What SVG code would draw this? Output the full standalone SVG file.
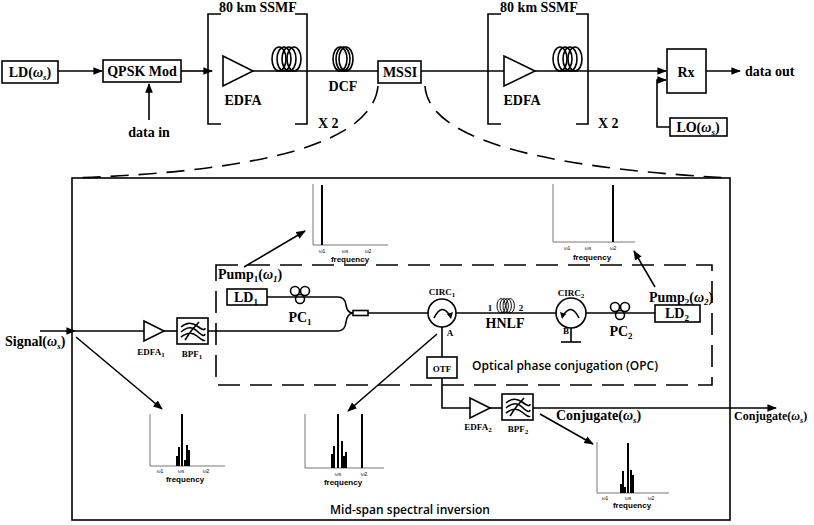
<svg xmlns="http://www.w3.org/2000/svg" width="814" height="525" viewBox="0 0 814 525">
<style>
.s{stroke:#000;stroke-width:1.6;fill:none}
.b{stroke:#000;stroke-width:1.6;fill:#fff}
.t{font-family:"Liberation Serif",serif;font-weight:bold;font-size:14px;fill:#000}
.ts{font-family:"Liberation Serif",serif;font-weight:bold;font-size:9px;fill:#000}
.sf{font-family:"Open Sans",sans-serif;font-weight:600;font-size:12px;fill:#000}
.ax{stroke:#777;stroke-width:1;fill:none}
.pk{stroke:#000;stroke-width:2;fill:none}
.fl{font-family:"Liberation Sans",sans-serif;font-size:5px;fill:#000}
.fr{font-family:"Liberation Sans",sans-serif;font-weight:bold;font-size:8px;fill:#000}
.dash{stroke:#000;stroke-width:1.6;fill:none;stroke-dasharray:22 10}
</style>
<defs>
<marker id="ar" viewBox="0 0 10 10" refX="9" refY="5" markerWidth="6" markerHeight="6" orient="auto"><path d="M0,1 L10,5 L0,9 z" fill="#000"/></marker>
<g id="coil"><ellipse cx="7" cy="-12" rx="7" ry="12" class="s"/><ellipse cx="12" cy="-12" rx="7" ry="12" class="s"/><ellipse cx="17" cy="-12" rx="7" ry="12" class="s"/><ellipse cx="22" cy="-12" rx="7" ry="12" class="s"/></g>
<g id="coil3"><ellipse cx="7" cy="-12" rx="7" ry="12" class="s"/><ellipse cx="10" cy="-12" rx="7" ry="12" class="s"/><ellipse cx="13" cy="-12" rx="7" ry="12" class="s"/></g>
<g id="pc"><circle cx="-5" cy="0" r="4.5" class="s"/><circle cx="5" cy="0" r="4.5" class="s"/><circle cx="0" cy="8" r="4.5" class="s"/></g>
<g id="bpf"><rect x="0" y="0" width="31" height="26" class="b"/><path d="M4,9 Q12,2 20,8 T28,10 M4,14 Q13,6 20,13 T28,16 M4,19 Q13,12 20,18 T28,22 M8,22 Q14,12 22,4" class="s" stroke-width="1"/></g>
</defs>

<g id="connectors">
<line x1="58" y1="71" x2="102" y2="71" class="s" marker-end="url(#ar)"/>
<line x1="149" y1="120" x2="149" y2="84" class="s" marker-end="url(#ar)"/>
<line x1="181" y1="71" x2="212" y2="71" class="s" marker-end="url(#ar)"/>
<line x1="253" y1="71" x2="378" y2="71" class="s"/>
<line x1="421" y1="71" x2="504" y2="71" class="s"/>
<line x1="535" y1="71" x2="666" y2="71" class="s" marker-end="url(#ar)"/>
<line x1="706" y1="71" x2="740" y2="71" class="s" marker-end="url(#ar)"/>
<polyline points="670,127 657,127 657,80 666,80" class="s" marker-end="url(#ar)"/>
<path d="M378,86 Q370,168 72,178" class="s" stroke-dasharray="18 10"/>
<path d="M425,86 Q430,162 730,178" class="s" stroke-dasharray="18 10"/>
<line x1="40" y1="331" x2="75" y2="331" class="s" marker-end="url(#ar)"/>
<line x1="75" y1="331" x2="144" y2="331" class="s"/>
<line x1="164" y1="331" x2="177" y2="331" class="s"/>
<path d="M208,331 L338,331 Q345,331 346,322 Q347,314 353,313" class="s"/>
<path d="M267,297 L338,297 Q345,297 346,305 Q347,313 353,313" class="s"/>
<rect x="353" y="310.5" width="15" height="5" class="b" stroke-width="1.2"/>
<line x1="368" y1="313" x2="428" y2="313" class="s"/>
<line x1="456" y1="313" x2="556" y2="313" class="s"/>
<line x1="586" y1="313" x2="655" y2="313" class="s"/>
<line x1="571" y1="328" x2="571" y2="342" class="s"/>
<line x1="561" y1="342" x2="581" y2="342" class="s"/>
<line x1="442" y1="327" x2="442" y2="357" class="s"/>
<polyline points="442,378 442,408 470,408" class="s"/>
<line x1="490" y1="408" x2="502" y2="408" class="s"/>
<line x1="533" y1="408" x2="776" y2="408" class="s" marker-end="url(#ar)"/>
<line x1="76" y1="337" x2="162" y2="409" class="s" stroke-width="1.2" marker-end="url(#ar)"/>
<line x1="437" y1="334" x2="348" y2="411" class="s" stroke-width="1.2" marker-end="url(#ar)"/>
<line x1="540" y1="414" x2="593" y2="444" class="s" stroke-width="1.2" marker-end="url(#ar)"/>
<line x1="244" y1="267" x2="305" y2="231" class="s" stroke-width="1.2" marker-end="url(#ar)"/>
<line x1="655" y1="287" x2="634" y2="251" class="s" stroke-width="1.2" marker-end="url(#ar)"/>
</g>

<g id="ld"><rect x="2" y="61" width="56" height="22" class="b"/><text x="30" y="77" class="t" text-anchor="middle">LD(<tspan font-style="italic">ω<tspan font-size="9" dy="3">s</tspan></tspan><tspan dy="-3">)</tspan></text></g>
<g id="qpsk"><rect x="103" y="60" width="78" height="22" class="b"/><text x="142" y="76" class="t" text-anchor="middle">QPSK Mod</text></g>
<text x="149" y="137" class="t" text-anchor="middle">data in</text>

<g id="span1">
<path d="M221,14 L208,14 L208,124 L221,124 M295,14 L307,14 L307,124 L295,124" class="s"/>
<text x="258" y="12" class="t" text-anchor="middle">80 km SSMF</text>
<polygon points="223,56 253,71 223,86" class="b"/>
<text x="243" y="105" class="t" text-anchor="middle">EDFA</text>
<use href="#coil" x="272" y="71"/>
<text x="318" y="128" class="t">X 2</text>
</g>
<g id="dcf"><use href="#coil3" x="333" y="71"/><text x="343" y="91" class="t" text-anchor="middle">DCF</text></g>
<g id="mssi"><rect x="378" y="61" width="43" height="22" class="b"/><text x="400" y="77" class="t" text-anchor="middle">MSSI</text></g>
<g id="span2">
<path d="M501,14 L488,14 L488,124 L501,124 M576,14 L588,14 L588,124 L576,124" class="s"/>
<text x="539" y="12" class="t" text-anchor="middle">80 km SSMF</text>
<polygon points="504,56 535,71 504,86" class="b"/>
<text x="522" y="105" class="t" text-anchor="middle">EDFA</text>
<use href="#coil" x="553" y="71"/>
<text x="598" y="128" class="t">X 2</text>
</g>
<g id="rx"><rect x="667" y="49" width="39" height="44" class="b"/><text x="686" y="77" class="t" text-anchor="middle">Rx</text></g>
<text x="745" y="76" class="t">data out</text>
<g id="lo"><rect x="670" y="118" width="57" height="18" class="b"/><text x="698" y="132" class="t" text-anchor="middle">LO(<tspan font-style="italic">ω<tspan font-size="9" dy="3">s</tspan></tspan><tspan dy="-3">)</tspan></text></g>

<rect id="mssi-detail" x="72" y="178" width="658" height="342" class="s"/>
<rect id="opc" x="216" y="265" width="496" height="120" class="dash"/>
<text x="472" y="370" class="sf">Optical phase conjugation (OPC)</text>
<text x="410" y="514" class="sf" text-anchor="middle">Mid-span spectral inversion</text>

<text x="5" y="346" class="t">Signal(<tspan font-style="italic">ω<tspan font-size="9" dy="3">s</tspan></tspan><tspan dy="-3">)</tspan></text>
<g id="edfa1"><polygon points="144,321 164,331 144,341" class="b"/><text x="151" y="355" class="ts" text-anchor="middle">EDFA<tspan font-size="7" dy="2">1</tspan></text></g>
<g id="bpf1"><use href="#bpf" x="177" y="318"/><text x="192" y="357" class="ts" text-anchor="middle">BPF<tspan font-size="7" dy="2">1</tspan></text></g>

<text x="218" y="279" class="t">Pump<tspan font-size="9" dy="3">1</tspan><tspan dy="-3">(</tspan><tspan font-style="italic">ω<tspan font-size="9" dy="3">1</tspan></tspan><tspan dy="-3">)</tspan></text>
<g id="ld1"><rect x="227" y="289" width="40" height="16" class="b"/><text x="246" y="302" class="t" text-anchor="middle">LD<tspan font-size="9" dy="3">1</tspan></text></g>
<g id="pc1"><use href="#pc" x="300" y="291"/><text x="300" y="322" class="t" text-anchor="middle">PC<tspan font-size="9" dy="3">1</tspan></text></g>
<g id="circ1"><circle cx="442" cy="313" r="14" class="b"/><path d="M434,318 Q442,302 450,316" class="s" stroke-width="2"/><path d="M447,314 L451,319 L453,312 z" fill="#000"/><text x="442" y="295" class="ts" text-anchor="middle">CIRC<tspan font-size="7" dy="2">1</tspan></text><text x="450" y="336" class="ts" text-anchor="middle">A</text></g>
<g id="hnlf"><use href="#coil" x="497" y="313" transform="translate(497 313) scale(0.6 0.6) translate(-497 -313)"/><text x="490" y="311" class="ts" text-anchor="middle">1</text><text x="521" y="311" class="ts" text-anchor="middle">2</text><text x="505" y="328" class="t" text-anchor="middle">HNLF</text></g>
<g id="circ2"><circle cx="571" cy="313" r="15" class="b"/><path d="M579,318 Q571,302 563,316" class="s" stroke-width="2"/><path d="M566,314 L562,319 L560,312 z" fill="#000"/><text x="571" y="296" class="ts" text-anchor="middle">CIRC<tspan font-size="7" dy="2">2</tspan></text><text x="566" y="334" class="ts" text-anchor="middle">B</text></g>
<g id="pc2"><use href="#pc" x="620" y="307"/><text x="621" y="336" class="t" text-anchor="middle">PC<tspan font-size="9" dy="3">2</tspan></text></g>
<g id="ld2"><rect x="655" y="305" width="45" height="17" class="b"/><text x="677" y="318" class="t" text-anchor="middle">LD<tspan font-size="9" dy="3">2</tspan></text></g>
<text x="649" y="302" class="t">Pump<tspan font-size="9" dy="3">2</tspan><tspan dy="-3">(</tspan><tspan font-style="italic">ω<tspan font-size="9" dy="3">2</tspan></tspan><tspan dy="-3">)</tspan></text>
<g id="otf"><rect x="427" y="357" width="30" height="21" class="b"/><text x="442" y="372" class="ts" text-anchor="middle">OTF</text></g>
<g id="edfa2"><polygon points="470,398 490,408 470,418" class="b"/><text x="478" y="430" class="ts" text-anchor="middle">EDFA<tspan font-size="7" dy="2">2</tspan></text></g>
<g id="bpf2"><use href="#bpf" x="502" y="394"/><text x="518" y="432" class="ts" text-anchor="middle">BPF<tspan font-size="7" dy="2">2</tspan></text></g>
<text x="556" y="420" class="t">Conjugate(<tspan font-style="italic">ω<tspan font-size="9" dy="3">s</tspan></tspan><tspan dy="-3">)</tspan></text>
<text x="734" y="420" class="t" style="font-size:12px">Conjugate(<tspan font-style="italic">ω<tspan style="font-size:8px" dy="3">s</tspan></tspan><tspan dy="-3">)</tspan></text>

<g id="spec-pump1"><polyline points="313,184 313,245 388,245" class="ax"/><line x1="322" y1="185" x2="322" y2="245" class="pk"/>
<text x="322" y="253" class="fl" text-anchor="middle">ω1</text><text x="345" y="253" class="fl" text-anchor="middle">ωs</text><text x="368" y="253" class="fl" text-anchor="middle">ω2</text><text x="350" y="262" class="fr" text-anchor="middle">frequency</text></g>
<g id="spec-pump2"><polyline points="553,184 553,242 635,242" class="ax"/><line x1="613" y1="185" x2="613" y2="242" class="pk"/>
<text x="567" y="250" class="fl" text-anchor="middle">ω1</text><text x="588" y="250" class="fl" text-anchor="middle">ωs</text><text x="613" y="250" class="fl" text-anchor="middle">ω2</text><text x="592" y="260" class="fr" text-anchor="middle">frequency</text></g>
<g id="spec-signal"><polyline points="150,414 150,466 225,466" class="ax"/>
<path d="M182,414 V466 M179,447 V466 M177,456 V466 M187,445 V466 M185,460 V466 M189,450 V466" class="pk" stroke-width="1.4"/>
<text x="160" y="473" class="fl" text-anchor="middle">ω1</text><text x="181" y="473" class="fl" text-anchor="middle">ωs</text><text x="206" y="473" class="fl" text-anchor="middle">ω2</text><text x="185" y="482" class="fr" text-anchor="middle">frequency</text></g>
<g id="spec-mid"><polyline points="305,414 305,468 384,468" class="ax"/>
<path d="M338,414 V468 M334,446 V468 M332,454 V468 M342,441 V468 M344,456 V468 M346,452 V468 M362,414 V468" class="pk" stroke-width="1.4"/>
<text x="338" y="476" class="fl" text-anchor="middle">ωs</text><text x="364" y="476" class="fl" text-anchor="middle">ω2</text><text x="343" y="485" class="fr" text-anchor="middle">frequency</text></g>
<g id="spec-conj"><polyline points="597,442 597,493 669,493" class="ax"/>
<path d="M628,443 V493 M623,471 V493 M625,487 V493 M631,470 V493 M633,475 V493 M621,484 V493" class="pk" stroke-width="1.4"/>
<text x="605" y="500" class="fl" text-anchor="middle">ω1</text><text x="628" y="500" class="fl" text-anchor="middle">ωs</text><text x="651" y="500" class="fl" text-anchor="middle">ω2</text><text x="632" y="508" class="fr" text-anchor="middle">frequency</text></g>
</svg>
